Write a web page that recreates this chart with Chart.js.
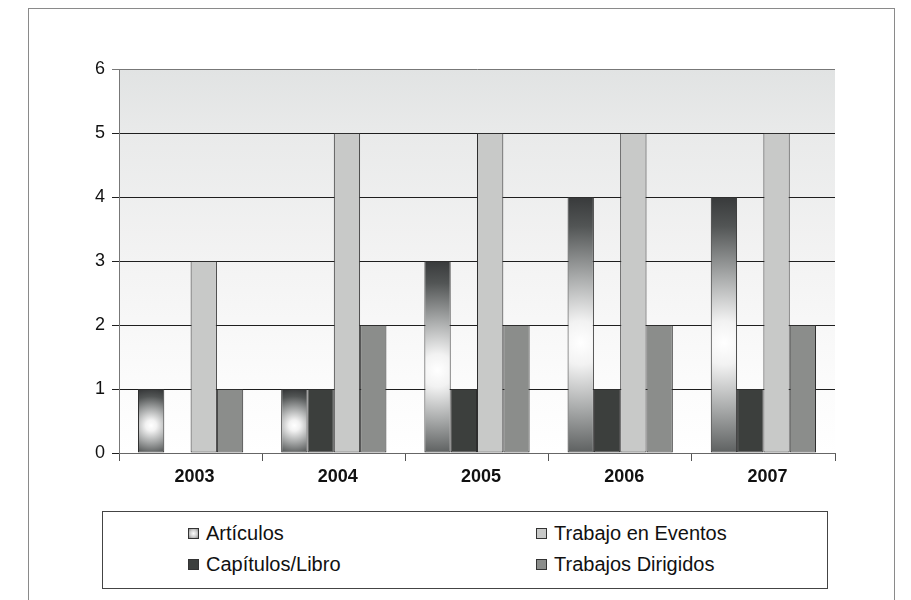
<!DOCTYPE html>
<html>
<head>
<meta charset="utf-8">
<script src="https://cdn.jsdelivr.net/npm/chart.js@4/dist/chart.umd.min.js"></script>
<style>
  html, body { margin: 0; padding: 0; background: #ffffff; }
  #wrap { position: relative; width: 911px; height: 600px; overflow: hidden; font-family: "Liberation Sans", Arial, sans-serif; }
  #frame { position: absolute; left: 28px; top: 8px; width: 867px; height: 610px; border: 1.5px solid #8a8a8a; box-sizing: border-box; }
  #c { position: absolute; left: 0; top: 0; }
  #legend { position: absolute; left: 102px; top: 511px; width: 726px; height: 78px; border: 1px solid #444; box-sizing: border-box; background: #fff; }
  .item { position: absolute; height: 24px; line-height: 24px; font-size: 20px; color: #111; white-space: nowrap; }
  .box { position: absolute; left: 0; top: 7px; width: 11px; height: 11px; border: 1px solid #333; box-sizing: border-box; }
  .txt { position: absolute; left: 18px; top: 0; }
</style>
</head>
<body>
<div id="wrap">
  <div id="frame"></div>
  <canvas id="c" width="911" height="600"></canvas>
  <div id="legend"></div>
</div>
<script>
const categories = ["2003", "2004", "2005", "2006", "2007"];
const seriesNames = ["Artículos", "Capítulos/Libro", "Trabajo en Eventos", "Trabajos Dirigidos"];
const articulos = [1, 1, 3, 4, 4];
const capitulos = [0, 1, 1, 1, 1];
const eventos = [3, 5, 5, 5, 5];
const dirigidos = [1, 2, 2, 2, 2];
const yTicks = [0, 1, 2, 3, 4, 5, 6];

const CAT_PCT = 0.735;
const seriesColors = ["#8a8a8a", "#3c3f3d", "#c8c9c8", "#8b8d8b"];

function articulosFill(ctx) {
  const chart = ctx.chart;
  const xs = chart.scales.x, ys = chart.scales.y;
  if (!chart.chartArea || !xs || !ys || ctx.type !== 'data') return seriesColors[0];
  const v = ctx.raw;
  const cat = xs.getPixelForValue(ctx.dataIndex);
  const catW = xs.width / categories.length;
  const groupW = catW * CAT_PCT;
  const barW = groupW / 4;
  const cx = cat - groupW / 2 + barW * (ctx.datasetIndex + 0.5);
  const top = ys.getPixelForValue(v), base = ys.getPixelForValue(0);
  const h = base - top;
  const cy = top + h * 0.57;
  const r = Math.max(h * 0.57, barW * 0.5);
  const g = chart.ctx.createRadialGradient(cx, cy, 0, cx, cy, r);
  g.addColorStop(0, "#ffffff");
  g.addColorStop(0.15, "#f2f2f2");
  g.addColorStop(0.45, "#a9abab");
  g.addColorStop(0.8, "#525555");
  g.addColorStop(1, "#383a3b");
  return g;
}

const bgPlugin = {
  id: 'plotBg',
  beforeDraw(chart) {
    const a = chart.chartArea, c = chart.ctx;
    const g = c.createLinearGradient(0, a.top, 0, a.bottom);
    g.addColorStop(0, "#e1e3e3");
    g.addColorStop(0.17, "#e9eaea");
    g.addColorStop(0.5, "#f3f3f3");
    g.addColorStop(0.8, "#fbfbfb");
    g.addColorStop(1, "#ffffff");
    c.save();
    c.fillStyle = g;
    c.fillRect(a.left, a.top, a.right - a.left, a.bottom - a.top);
    c.restore();
  }
};

const chart = new Chart(document.getElementById('c'), {
  type: 'bar',
  data: {
    labels: categories,
    datasets: [
      { label: seriesNames[0], data: articulos, backgroundColor: articulosFill },
      { label: seriesNames[1], data: capitulos, backgroundColor: seriesColors[1] },
      { label: seriesNames[2], data: eventos, backgroundColor: seriesColors[2] },
      { label: seriesNames[3], data: dirigidos, backgroundColor: seriesColors[3] }
    ].map(d => Object.assign(d, { borderColor: "#2e2e2e", borderWidth: 1, borderSkipped: false, categoryPercentage: CAT_PCT, barPercentage: 1.0 }))
  },
  options: {
    responsive: false,
    animation: false,
    devicePixelRatio: 1,
    layout: { padding: { left: 0, top: 69, right: 76, bottom: 0 } },
    plugins: { legend: { display: false }, tooltip: { enabled: false }, title: { display: false } },
    scales: {
      x: {
        grid: { offset: true, drawOnChartArea: false, drawTicks: true, tickLength: 8, color: "#555" },
        border: { color: "#666", width: 1 },
        ticks: { color: "#111", font: { family: "'Liberation Sans', Arial, sans-serif", size: 18, weight: 'bold' }, padding: 5, labelOffset: 4 },
        afterFit(s) { s.height = 147; }
      },
      y: {
        min: 0, max: 6,
        afterBuildTicks(s) { s.ticks = yTicks.map(v => ({ value: v })); },
        grid: { color: (c) => c.tick && c.tick.value === 6 ? "#777" : "#1e1e1e", lineWidth: 1, tickLength: 7 },
        border: { color: "#777", width: 1 },
        ticks: { color: "#111", font: { family: "'Liberation Sans', Arial, sans-serif", size: 18 }, padding: 7, stepSize: 1 },
        afterFit(s) { s.width = 119; }
      }
    }
  },
  plugins: [bgPlugin]
});

// Legend (two columns, column-first order like the original)
const legendIcons = [
  "radial-gradient(circle, #ffffff 0%, #d0d0d0 55%, #8a8a8a 100%)",
  seriesColors[1], seriesColors[2], seriesColors[3]
];
const legend = document.getElementById('legend');
const colX = [85, 433];
const rowY = [9, 40];
chart.data.datasets.forEach((ds, i) => {
  const col = Math.floor(i / 2), row = i % 2;
  const it = document.createElement('div');
  it.className = 'item';
  it.style.left = colX[col] + 'px';
  it.style.top = rowY[row] + 'px';
  const b = document.createElement('span');
  b.className = 'box';
  b.style.background = legendIcons[i];
  const t = document.createElement('span');
  t.className = 'txt';
  t.textContent = ds.label;
  it.appendChild(b); it.appendChild(t);
  legend.appendChild(it);
});
</script>
</body>
</html>
